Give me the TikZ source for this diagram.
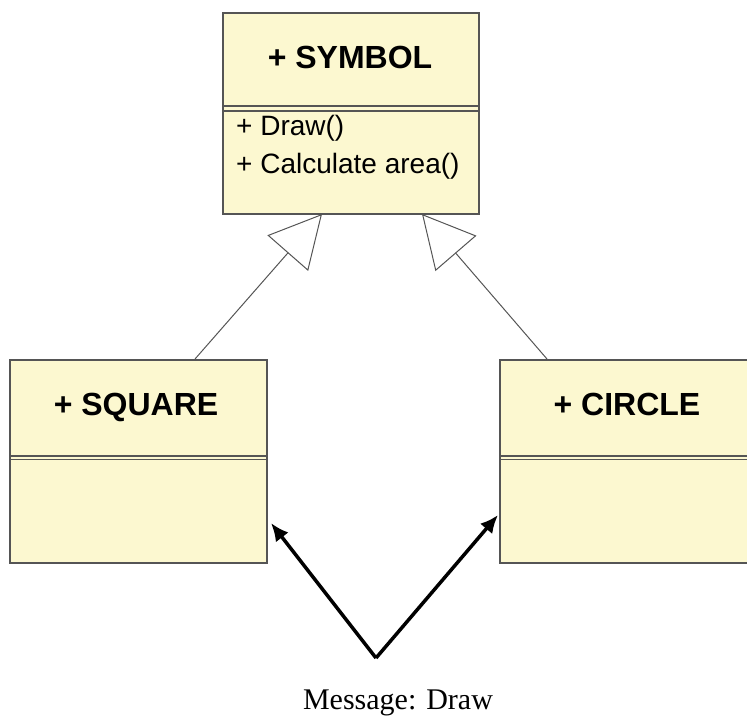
\documentclass[tikz,border=0pt]{standalone}
\usepackage{fontspec}
\setmainfont{Liberation Serif}
\newfontfamily\arial{Liberation Sans}
\usetikzlibrary{arrows.meta,calc}
\definecolor{boxfill}{RGB}{252,248,208}
\definecolor{boxline}{RGB}{85,85,85}
\tikzset{
  umlbox/.style={draw=boxline, fill=boxfill, line width=1.5pt, rectangle, inner sep=0pt, anchor=north west},
  divider/.style={draw=boxline, line width=1.3pt},
  titletext/.style={font=\arial\bfseries\fontsize{32}{38}\selectfont, anchor=base, inner sep=0pt},
  methodtext/.style={font=\arial\fontsize{28}{34}\selectfont, anchor=base west, inner sep=0pt},
  inherit/.style={draw=boxline, line width=1pt, -{Triangle[fill=white, length=52pt, width=54pt]}},
  msgarrow/.style={draw=black, line width=3.5pt, -{Latex[length=18pt, width=16pt]}},
  msgtext/.style={font=\fontsize{30}{36}\selectfont, anchor=base, inner sep=0pt}
}
\begin{document}
\begin{tikzpicture}[x=1pt,y=-1pt]
\useasboundingbox (0,0) rectangle (747,716);
\clip (0,0) rectangle (747,716);
% boxes
\node[umlbox, minimum width=256pt, minimum height=201pt] (symbol) at (222,12) {};
\node[umlbox, minimum width=257pt, minimum height=203pt] (square) at (9,359) {};
\node[umlbox, minimum width=257pt, minimum height=203pt] (circle) at (499,359) {};
% dividers
\draw[divider] (222,106) -- (478,106);
\draw[divider] (222,111) -- (478,111);
\draw[divider] (9,456) -- (266,456);
\draw[divider] (9,459.5) -- (266,459.5);
\draw[divider] (499,456) -- (756,456);
\draw[divider] (499,459.5) -- (756,459.5);
% texts
\node[titletext] (symtitle) at (350,68) {+ SYMBOL};
\node[methodtext] (m1) at (236,135) {+ Draw()};
\node[methodtext] (m2) at (236,173) {+ Calculate area()};
\node[titletext] (sqtitle) at (136,415) {+ SQUARE};
\node[titletext] (cititle) at (627,415) {+ CIRCLE};
% inheritance
\coordinate (sqtop) at (195,359);
\coordinate (citop) at (547,359);
\coordinate (symL) at (322,214);
\coordinate (symR) at (422,214);
\draw[inherit] (sqtop) -- (symL);
\draw[inherit] (citop) -- (symR);
% message arrows
\coordinate (msg) at (376,658);
\coordinate (sqhit) at (271,523);
\coordinate (cihit) at (498,515);
\draw[msgarrow] (msg) -- (sqhit);
\draw[msgarrow] (msg) -- (cihit);
\node[msgtext] (msglabel) at (398,709) {Message: Draw};
\end{tikzpicture}
\end{document}
